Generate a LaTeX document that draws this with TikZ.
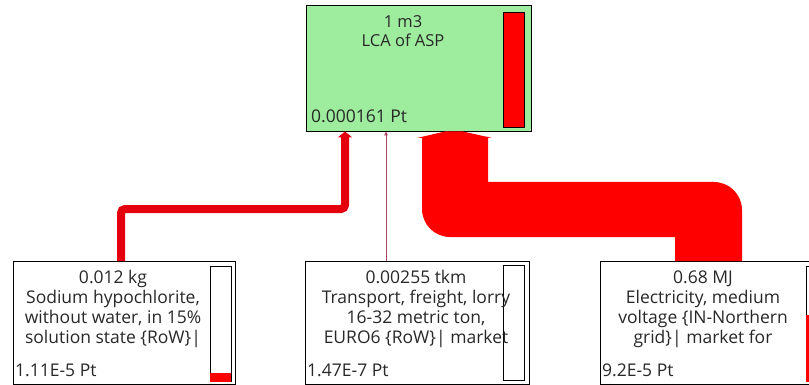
\documentclass[tikz,border=0pt]{standalone}
\usepackage{fontspec}
\setmainfont{Open Sans}
\usetikzlibrary{arrows.meta}
\definecolor{boxgreen}{RGB}{158,236,158}
\definecolor{flowred}{RGB}{255,0,0}
\definecolor{linkred}{RGB}{228,0,12}
\definecolor{thinred}{RGB}{170,70,95}
\definecolor{txt}{RGB}{40,40,40}
\tikzset{
  procbox/.style={draw=black, line width=0.9pt, inner sep=0pt},
  bar/.style={draw=black, line width=0.9pt, inner sep=0pt, minimum width=21pt},
  label/.style={text=txt, font=\fontsize{17.5}{20}\selectfont, align=center, inner sep=0pt, anchor=base},
  ptlabel/.style={text=txt, font=\fontsize{17.5}{20}\selectfont, inner sep=0pt, anchor=base west},
}
\begin{document}
\begin{tikzpicture}[x=1pt,y=-1pt]
\useasboundingbox (0,0) rectangle (809,385);
% main box
\node[procbox, fill=boxgreen, minimum width=225pt, minimum height=126pt] (main) at (418.5,68) {};
\node[bar, fill=flowred, minimum height=115pt] (mainbar) at (513.5,69.5) {};
\node[label, font=\fontsize{16.5}{19}\selectfont] (maint) at (403,47) {1 m3\\LCA of ASP};
\node[ptlabel] (mainpt) at (311,123) {0.000161 Pt};
% left box
\node[procbox, fill=white, minimum width=222pt, minimum height=123pt] (lbox) at (124,323) {};
\node[bar, fill=white, minimum height=115pt] (lbar) at (220.5,323.5) {};
\fill[flowred] ([xshift=0.45pt,yshift=-0.45pt]lbar.south west) rectangle ([xshift=-0.45pt]lbar.south east |- 0,373);
\node[label] (lt) at (113,343) {0.012 kg\\Sodium hypochlorite,\\without water, in 15\%\\solution state \{RoW\}|};
\node[ptlabel] (lpt) at (15,376) {1.11E-5 Pt};
% middle box
\node[procbox, fill=white, minimum width=224pt, minimum height=123pt] (mbox) at (417,323) {};
\node[bar, fill=white, minimum height=115pt] (mbar) at (513.5,322.5) {};
\node[label] (mt) at (416,343) {0.00255 tkm\\Transport, freight, lorry\\16-32 metric ton,\\EURO6 \{RoW\}| market};
\node[ptlabel] (mpt) at (307,376) {1.47E-7 Pt};
% right box
\node[procbox, fill=white, minimum width=222pt, minimum height=123pt] (rbox) at (711,323) {};
\node[bar, fill=white, minimum height=115pt] (rbar) at (816.5,323.5) {};
\fill[flowred] ([xshift=0.45pt,yshift=-0.45pt]rbar.south west) rectangle ([xshift=-0.45pt]rbar.south east |- 0,315);
\node[label] (rt) at (703,343) {0.68 MJ\\Electricity, medium\\voltage \{IN-Northern\\grid\}| market for};
\node[ptlabel] (rpt) at (602,376) {9.2E-5 Pt};
% connectors
\draw[linkred, line width=8pt, rounded corners=4pt, -{Triangle[width=14pt,length=6pt]}]
  ([xshift=-3pt]lbox.north) |- (345,209) -- ([xshift=-73.5pt]main.south);
\draw[thinred, line width=1pt, -{Triangle[width=3.5pt,length=4pt]}]
  ([xshift=-31pt]mbox.north) -- ([xshift=-32.5pt]main.south);
\coordinate (rtop) at (rbox.north);
\fill[flowred] (422,137) -- (422,209) arc[start angle=180, end angle=270, radius=28pt]
  -- (675,237) -- (675,0 |- rtop) -- (742,0 |- rtop) -- (742,210)
  arc[start angle=0, end angle=90, radius=28pt] -- (488,182) -- (488,137) -- cycle;
\fill[flowred] (417,138) -- (445,131.5) -- (463,131.5) -- (492,138) -- cycle;
\end{tikzpicture}
\end{document}
